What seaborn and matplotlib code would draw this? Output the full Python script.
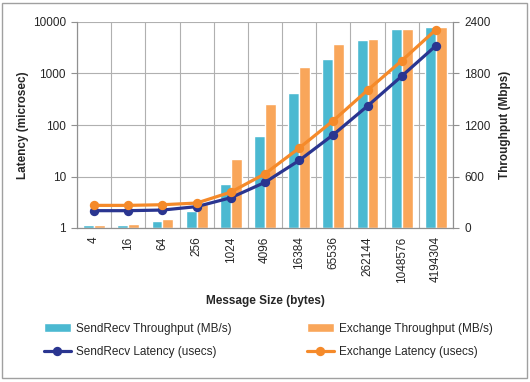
import matplotlib
matplotlib.use("Agg")
import matplotlib.pyplot as plt
import matplotlib.ticker as mticker
from matplotlib.patches import Rectangle
import seaborn as sns
import pandas as pd

# data
msg_sizes = ["4", "16", "64", "256", "1024", "4096", "16384", "65536",
             "262144", "1048576", "4194304"]
sendrecv_tput = [30, 39, 78, 202, 510, 1067, 1575, 1972, 2190, 2315, 2346]
exchange_tput = [32, 43, 108, 275, 803, 1450, 1874, 2147, 2201, 2315, 2346]
sendrecv_lat = [2.17, 2.17, 2.23, 2.6, 3.87, 7.7, 20.5, 65, 234, 889, 3470]
exchange_lat = [2.75, 2.75, 2.83, 3.05, 4.97, 11.3, 35.6, 122, 474, 1770, 7100]

tput_names = ["SendRecv Throughput (MB/s)", "Exchange Throughput (MB/s)"]
lat_names = ["SendRecv Latency (usecs)", "Exchange Latency (usecs)"]

tput_df = pd.DataFrame({
    "size": msg_sizes * 2,
    "value": sendrecv_tput + exchange_tput,
    "series": [tput_names[0]] * len(msg_sizes) + [tput_names[1]] * len(msg_sizes),
})
lat_df = pd.DataFrame({
    "size": msg_sizes * 2,
    "value": sendrecv_lat + exchange_lat,
    "series": [lat_names[0]] * len(msg_sizes) + [lat_names[1]] * len(msg_sizes),
})

sns.set_style("white")
plt.rcParams["font.family"] = ["Liberation Sans", "DejaVu Sans"]
plt.rcParams["font.size"] = 8.5

fig = plt.figure(figsize=(5.3, 3.82), dpi=100)
ax = fig.add_axes([77 / 530, 1 - 228 / 382, 376 / 530, 206 / 382])

# bars -> throughput (right axis)
sns.barplot(data=tput_df, x="size", y="value", hue="series", order=msg_sizes,
            hue_order=tput_names, palette=["#4bb9d1", "#f9a65a"],
            width=0.64, gap=0, saturation=1, ax=ax)
ax.set_ylim(0, 2400)
ax.yaxis.set_major_locator(mticker.MultipleLocator(600))
ax.set_axisbelow(True)
ax.grid(axis="y", color="#b0b0b0", lw=0.8)

# lines -> latency (left axis, log)
ax2 = ax.twinx()
sns.pointplot(data=lat_df, x="size", y="value", hue="series", order=msg_sizes,
              hue_order=lat_names, palette=["#2a3590", "#f58a2a"],
              markers="o", errorbar=None, markersize=5, linewidth=2.3, ax=ax2)
ax2.set_yscale("log")
ax2.set_ylim(1, 10000)
ax2.yaxis.set_major_locator(mticker.LogLocator(base=10, numticks=10))
ax2.yaxis.set_minor_locator(mticker.NullLocator())
ax2.yaxis.set_major_formatter(mticker.FuncFormatter(lambda v, p: f"{v:g}"))

# swap sides: latency on the left, throughput on the right
ax.yaxis.tick_right()
ax.yaxis.set_label_position("right")
ax.set_ylabel("Throughput (Mbps)", fontweight="bold", labelpad=6)
ax2.yaxis.tick_left()
ax2.yaxis.set_label_position("left")
ax2.set_ylabel("Latency (microsec)", fontweight="bold", labelpad=3)

# x axis: labels at centres, ticks and grid lines at category boundaries
n = len(msg_sizes)
ax.set_xlim(-0.5, n - 0.5)
ax.set_xticks(range(n))
ax.set_xticklabels(msg_sizes, rotation=90)
ax.set_xticks([i - 0.5 for i in range(n + 1)], minor=True)
ax.tick_params(axis="x", which="major", length=0, pad=6)
ax.tick_params(axis="x", which="minor", length=4, color="#909090", width=0.8)
ax.grid(axis="x", which="minor", color="#b0b0b0", lw=0.8)
ax.set_xlabel("Message Size (bytes)", fontweight="bold", labelpad=9)

for a in (ax, ax2):
    a.tick_params(axis="y", length=4, color="#909090", width=0.8, pad=4)
    for s in a.spines.values():
        s.set_color("#909090")
        s.set_linewidth(0.8)
    a.spines["top"].set_visible(False)

# combined legend below
h1, l1 = ax.get_legend_handles_labels()
h2, l2 = ax2.get_legend_handles_labels()
ax.get_legend().remove()
ax2.get_legend().remove()
handles = [h1[0], h2[0], h1[1], h2[1]]
labels = [l1[0], l2[0], l1[1], l2[1]]
fig.legend(handles, labels, ncol=2, loc="upper left",
           bbox_to_anchor=(33 / 530, 1 - 312 / 382), frameon=False,
           handlelength=2.3, handletextpad=0.4, labelspacing=0.95,
           columnspacing=6.4, fontsize=8.5)

fig.patches.append(Rectangle((2 / 530, 4 / 382), 525 / 530, 375 / 382,
                             transform=fig.transFigure, fill=False,
                             edgecolor="#a0a0a0", lw=1))

fig.savefig("out.png", dpi=100)
